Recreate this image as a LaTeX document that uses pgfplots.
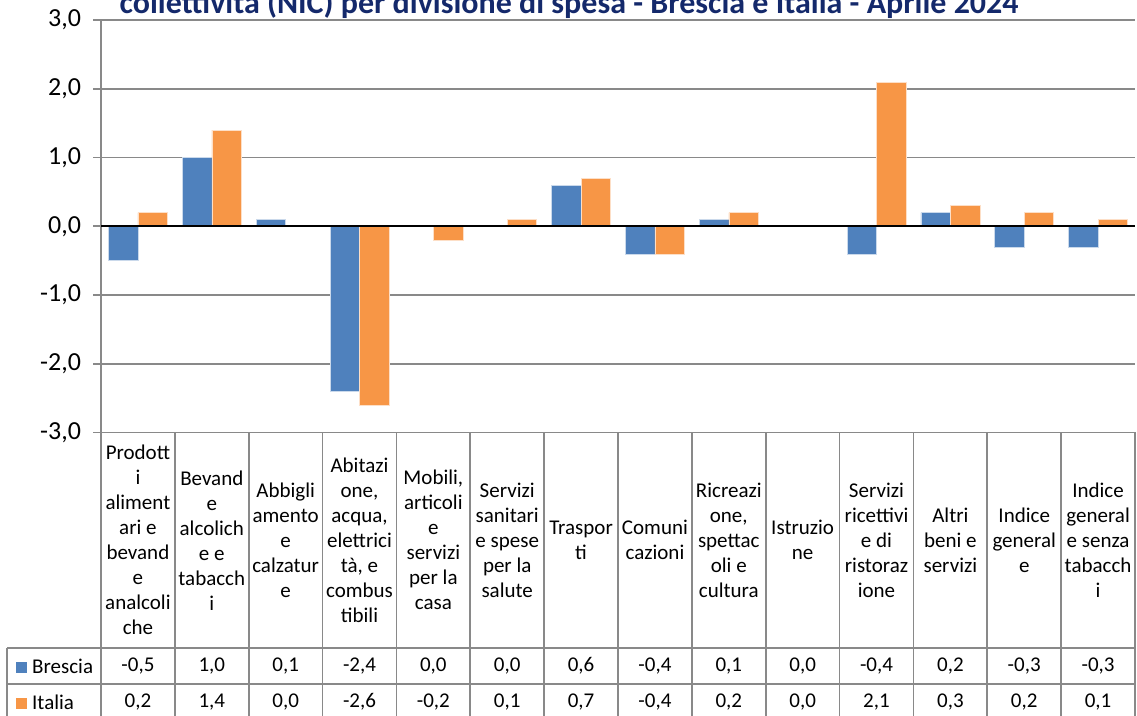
\documentclass[border=0pt]{standalone}
\usepackage{pgfplots}
\usepackage{pgfplotstable}
\usepackage{fontspec}
\setmainfont{Carlito}
\pgfplotsset{compat=1.18}
\definecolor{bres}{HTML}{4F81BD}
\definecolor{ital}{HTML}{F79646}
\definecolor{gridc}{HTML}{898989}
\definecolor{titc}{HTML}{14296B}
\pgfplotstableread{
x b i
0 -0.5 0.2
1 1.0 1.4
2 0.1 0.0
3 -2.4 -2.6
4 0.0 -0.2
5 0.0 0.1
6 0.6 0.7
7 -0.4 -0.4
8 0.1 0.2
9 0.0 0.0
10 -0.4 2.1
11 0.2 0.3
12 -0.3 0.2
13 -0.3 0.1
}\data
\begin{document}
\begin{tikzpicture}[x=1pt,y=1pt]
\useasboundingbox (0,0) rectangle (1137,715);
\clip (0,0) rectangle (1137,715);
\begin{axis}[
  at={(101pt,282.5pt)}, anchor=south west,
  scale only axis, width=1034pt, height=412.3pt,
  xmin=-0.5, xmax=13.5, ymin=-3, ymax=3,
  ytick={-3,-2,-1,0,1,2,3},
  axis y line*=left, axis x line=none,
  axis line style={gridc, line width=1.7pt, -},
  ymajorgrids, grid style={gridc, line width=1.7pt},
  tick align=outside, major tick length=8pt,
  tick style={gridc, line width=1.7pt},
  yticklabel style={font=\fontsize{26}{31}\selectfont, text=black, xshift=-8.5pt},
  /pgf/number format/.cd, use comma, fixed, fixed zerofill, precision=1, assume math mode=true,
  /pgfplots/.cd,
  clip=false,
]
\addplot[ybar, bar width=29.5pt, bar shift=-14.75pt, fill=bres, draw=white!70!bres, line width=0.5pt] table[x=x, y=b] {\data};
\addplot[ybar, bar width=29.5pt, bar shift=14.75pt, fill=ital, draw=white!70!ital, line width=0.5pt] table[x=x, y=i] {\data};
\draw[black, line width=2pt] (axis cs:-0.5,0) -- (axis cs:13.5,0);
\addplot[draw=none, mark=none, point meta=explicit, nodes near coords={\pgfmathprintnumber{\pgfplotspointmeta}},
  nodes near coords style={anchor=center, font=\fontsize{21}{25}\selectfont, text=black}]
  table[x=x, y expr=-6.398, meta=b] {\data};
\addplot[draw=none, mark=none, point meta=explicit, nodes near coords={\pgfmathprintnumber{\pgfplotspointmeta}},
  nodes near coords style={anchor=center, font=\fontsize{21}{25}\selectfont, text=black}]
  table[x=x, y expr=-6.922, meta=i] {\data};
\end{axis}
% table grid
\foreach \k in {0,...,14} \draw[gridc, line width=1.7pt] ({101+73.857*\k},282.5) -- ({101+73.857*\k},-5);
\draw[gridc, line width=1.7pt] (7,67) -- (1136,67);
\draw[gridc, line width=1.7pt] (7,31) -- (1136,31);
\draw[gridc, line width=1.7pt] (7,67) -- (7,-5);
\draw[gridc, line width=1.7pt] (7,-5) -- (1136,-5);
\node[anchor=base west, inner sep=0pt, font=\fontsize{21}{25}\selectfont] at (16,42) {\textcolor{bres}{\rule{11pt}{11pt}}\hspace{5pt}Brescia};
\node[anchor=base west, inner sep=0pt, font=\fontsize{21}{25}\selectfont] at (16,6) {\textcolor{ital}{\rule{11pt}{11pt}}\hspace{5pt}Italia};
\foreach \lab [count=\k from 0] in {
  {Prodott\\i\\aliment\\ari e\\bevand\\e\\analcoli\\che},
  {Bevand\\e\\alcolich\\e e\\tabacch\\i},
  {Abbigli\\amento\\e\\calzatur\\e},
  {Abitazi\\one,\\acqua,\\elettrici\\tà, e\\combus\\tibili},
  {Mobili,\\articoli\\e\\servizi\\per la\\casa},
  {Servizi\\sanitari\\e spese\\per la\\salute},
  {Traspor\\ti},
  {Comuni\\cazioni},
  {Ricreazi\\one,\\spettac\\oli e\\cultura},
  {Istruzio\\ne},
  {Servizi\\ricettivi\\e di\\ristoraz\\ione},
  {Altri\\beni e\\servizi},
  {Indice\\general\\e},
  {Indice\\general\\e senza\\tabacch\\i}}
  \node[align=center, inner sep=0pt, font=\fontsize{21}{25}\selectfont] at ({137.93+73.857*\k},174.75) {\lab};
\node[anchor=base, inner sep=0pt, font=\fontsize{32}{38}\selectfont\bfseries, text=titc] at (569,701.7) {collettività (NIC) per divisione di spesa - Brescia e Italia - Aprile 2024};
\end{tikzpicture}
\end{document}
